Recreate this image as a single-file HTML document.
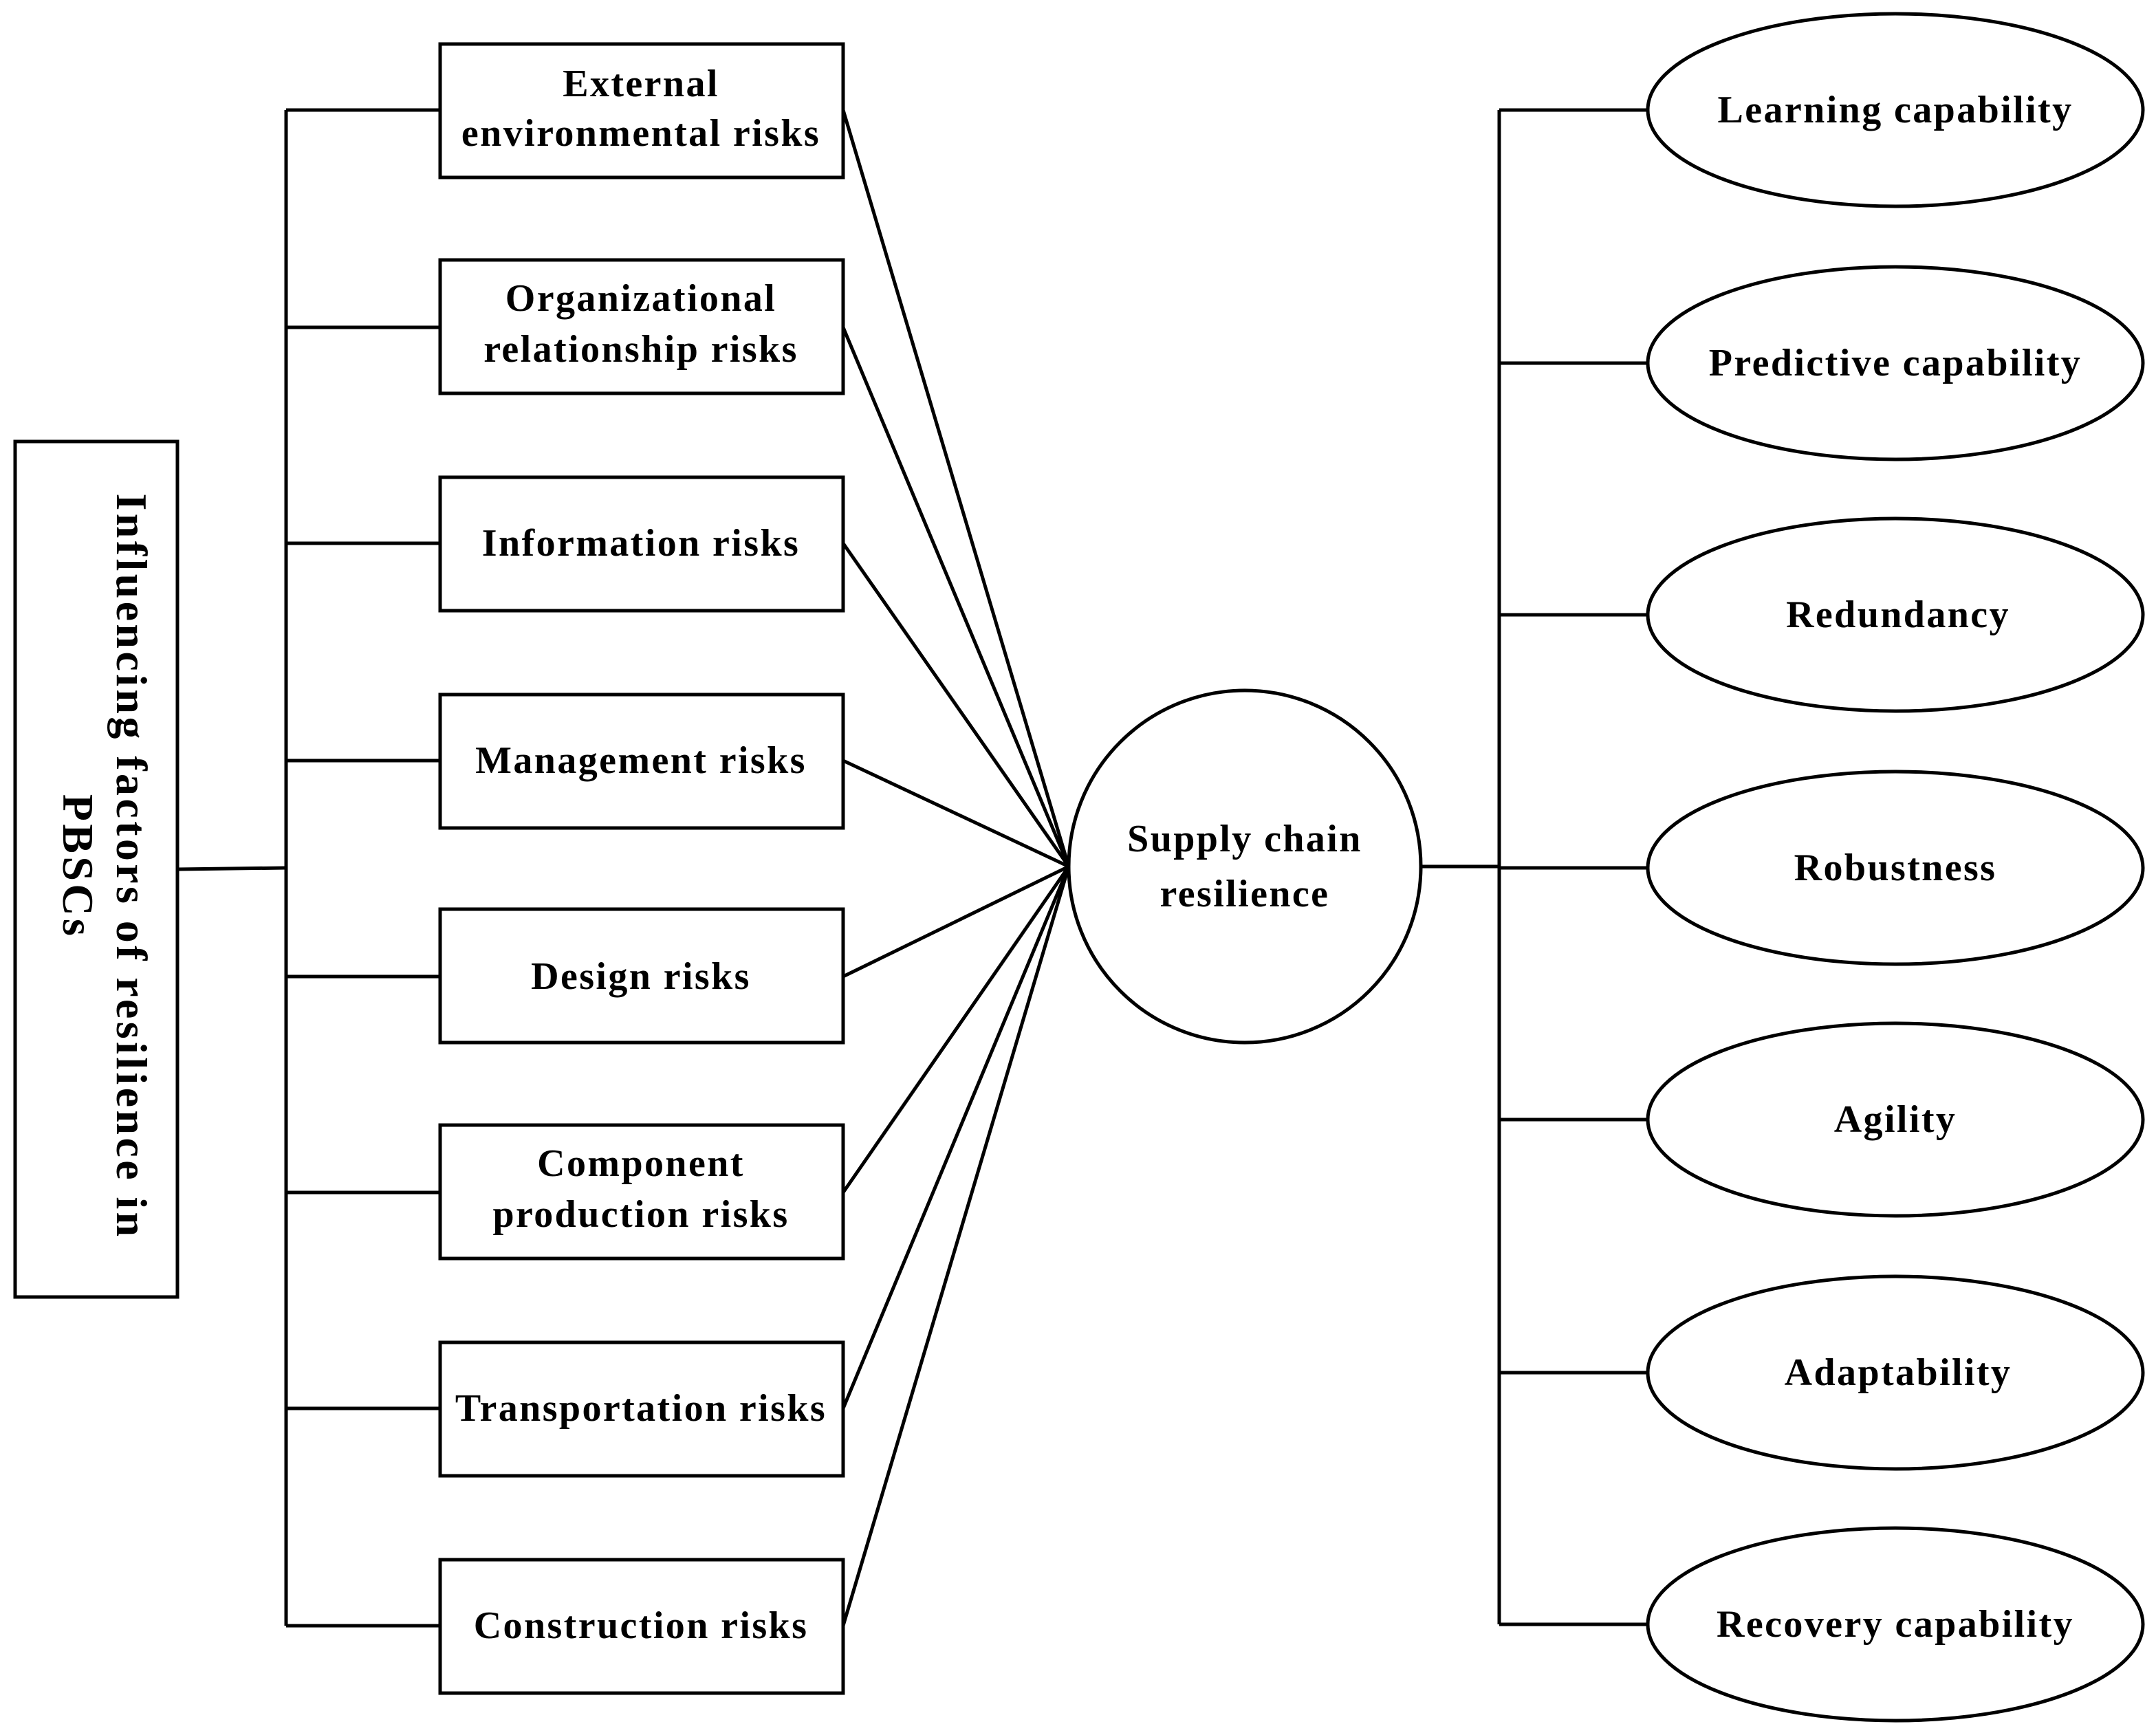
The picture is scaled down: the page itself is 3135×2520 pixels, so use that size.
<!DOCTYPE html>
<html><head><meta charset="utf-8"><style>
html,body{margin:0;padding:0;background:#fff;}
svg{display:block;}
text{font-family:"Liberation Serif",serif;font-weight:bold;fill:#000;}
</style></head><body>
<svg width="3135" height="2520" viewBox="0 0 1567.5 1260" xmlns="http://www.w3.org/2000/svg">
<g stroke="#000" stroke-width="2.5" fill="none">
<rect x="11" y="321" width="118" height="622"/>
<line x1="129" y1="632" x2="208" y2="631"/>
<line x1="208" y1="80" x2="208" y2="1182"/>
<line x1="208" y1="80" x2="320" y2="80"/>
<line x1="208" y1="238" x2="320" y2="238"/>
<line x1="208" y1="395" x2="320" y2="395"/>
<line x1="208" y1="553" x2="320" y2="553"/>
<line x1="208" y1="710" x2="320" y2="710"/>
<line x1="208" y1="867" x2="320" y2="867"/>
<line x1="208" y1="1024" x2="320" y2="1024"/>
<line x1="208" y1="1182" x2="320" y2="1182"/>
<rect x="320" y="32" width="293" height="97"/>
<rect x="320" y="189" width="293" height="97"/>
<rect x="320" y="347" width="293" height="97"/>
<rect x="320" y="505" width="293" height="97"/>
<rect x="320" y="661" width="293" height="97"/>
<rect x="320" y="818" width="293" height="97"/>
<rect x="320" y="976" width="293" height="97"/>
<rect x="320" y="1134" width="293" height="97"/>
<line x1="613" y1="80" x2="777" y2="630"/>
<line x1="613" y1="238" x2="777" y2="630"/>
<line x1="613" y1="395" x2="777" y2="630"/>
<line x1="613" y1="553" x2="777" y2="630"/>
<line x1="613" y1="710" x2="777" y2="630"/>
<line x1="613" y1="867" x2="777" y2="630"/>
<line x1="613" y1="1024" x2="777" y2="630"/>
<line x1="613" y1="1182" x2="777" y2="630"/>
<circle cx="905" cy="630" r="128"/>
<line x1="1033" y1="630" x2="1090" y2="630"/>
<line x1="1090" y1="80" x2="1090" y2="1181"/>
<line x1="1090" y1="80" x2="1198" y2="80"/>
<line x1="1090" y1="264" x2="1198" y2="264"/>
<line x1="1090" y1="447" x2="1198" y2="447"/>
<line x1="1090" y1="631" x2="1198" y2="631"/>
<line x1="1090" y1="814" x2="1198" y2="814"/>
<line x1="1090" y1="998" x2="1198" y2="998"/>
<line x1="1090" y1="1181" x2="1198" y2="1181"/>
<ellipse cx="1378" cy="80" rx="180" ry="70"/>
<ellipse cx="1378" cy="264" rx="180" ry="70"/>
<ellipse cx="1378" cy="447" rx="180" ry="70"/>
<ellipse cx="1378" cy="631" rx="180" ry="70"/>
<ellipse cx="1378" cy="814" rx="180" ry="70"/>
<ellipse cx="1378" cy="998" rx="180" ry="70"/>
<ellipse cx="1378" cy="1181" rx="180" ry="70"/>
</g>
<text transform="translate(70,630) rotate(90)" font-size="32" letter-spacing="2.2" text-anchor="middle"><tspan x="0" y="-15">Influencing factors of resilience in</tspan><tspan x="0" y="24">PBSCs</tspan></text>
<g font-size="28" letter-spacing="1.2" text-anchor="middle">
<text x="466" y="70">External</text>
<text x="466" y="106">environmental risks</text>
<text x="466" y="226">Organizational</text>
<text x="466" y="263">relationship risks</text>
<text x="466" y="404">Information risks</text>
<text x="466" y="562">Management risks</text>
<text x="466" y="719">Design risks</text>
<text x="466" y="855">Component</text>
<text x="466" y="892">production risks</text>
<text x="466" y="1033">Transportation risks</text>
<text x="466" y="1191">Construction risks</text>
<text x="905" y="619">Supply chain</text>
<text x="905" y="659">resilience</text>
<text x="1378" y="89">Learning capability</text>
<text x="1378" y="273">Predictive capability</text>
<text x="1380" y="456">Redundancy</text>
<text x="1378" y="640">Robustness</text>
<text x="1378" y="823">Agility</text>
<text x="1380" y="1007">Adaptability</text>
<text x="1378" y="1190">Recovery capability</text>
</g>
</svg>
</body></html>
